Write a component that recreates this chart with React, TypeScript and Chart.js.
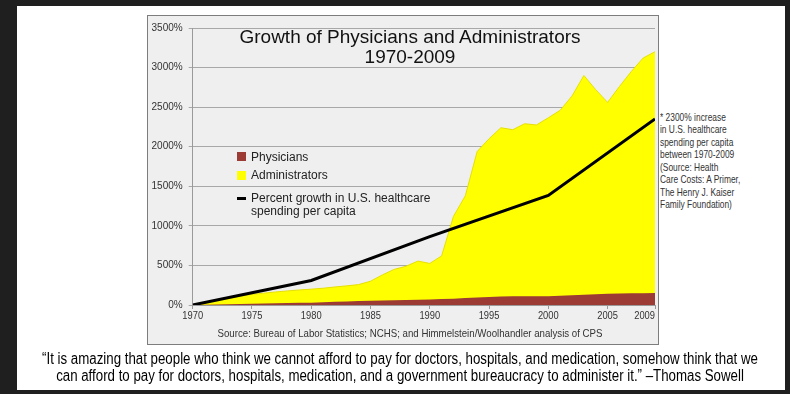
import React, { useEffect, useRef } from "react";
import { Chart, registerables } from "chart.js";

Chart.register(...registerables);

// ---- data ----
const years = [
  1970, 1971, 1972, 1973, 1974, 1975, 1976, 1977, 1978, 1979,
  1980, 1981, 1982, 1983, 1984, 1985, 1986, 1987, 1988, 1989,
  1990, 1991, 1992, 1993, 1994, 1995, 1996, 1997, 1998, 1999,
  2000, 2001, 2002, 2003, 2004, 2005, 2006, 2007, 2008, 2009,
];
const administrators = [
  0, 30, 60, 85, 110, 135, 150, 165, 178, 190,
  200, 212, 228, 242, 258, 300, 380, 450, 490, 555,
  525, 620, 1120, 1380, 1940, 2100, 2240, 2215, 2290, 2275,
  2365, 2460, 2640, 2900, 2720, 2560, 2760, 2950, 3120, 3200,
];
const physicians = [
  0, 3, 6, 9, 12, 15, 18, 21, 24, 27,
  30, 35, 40, 45, 50, 55, 58, 61, 64, 67,
  70, 75, 80, 87, 95, 102, 106, 110, 112, 110,
  110, 118, 124, 128, 135, 142, 146, 148, 150, 152,
];
const spendingYears = [1970, 1980, 1990, 2000, 2009];
const spendingGrowth = [0, 310, 865, 1385, 2350];

const xTickValues = [1970, 1975, 1980, 1985, 1990, 1995, 2000, 2005, 2009];
const seriesNames = ["Physicians", "Administrators", "Percent growth in U.S. healthcare spending per capita"];

const SANS = '"Liberation Sans", Arial, sans-serif';

const PHYS_COLOR = "#9c3a34";
const ADMIN_COLOR = "#ffff00";

const xLabelPlugin = {
  id: "xLabels",
  afterDraw(chart: any) {
    const s = chart.scales.x;
    const ctx = chart.ctx;
    const sx = 0.85;
    ctx.save();
    ctx.font = `11px ${SANS}`;
    ctx.fillStyle = "#333";
    ctx.textAlign = "center";
    ctx.textBaseline = "middle";
    xTickValues.forEach((v) => {
      const label = String(v);
      const w = ctx.measureText(label).width * sx;
      let px = s.getPixelForValue(v);
      const maxX = chart.chartArea.right - w / 2;
      if (px > maxX) px = maxX;
      ctx.save();
      ctx.translate(px, s.top + 11);
      ctx.scale(sx, 1);
      ctx.fillText(label, 0, 0);
      ctx.restore();
    });
    ctx.restore();
  },
};

export default function App() {
  const ref = useRef<HTMLCanvasElement>(null);

  useEffect(() => {
    if (!ref.current) return;
    const chart = new Chart(ref.current, {
      type: "line",
      data: {
        datasets: [
          {
            label: seriesNames[2],
            data: spendingYears.map((x, i) => ({ x, y: spendingGrowth[i] })),
            borderColor: "#000",
            borderWidth: 3,
            pointRadius: 0,
            fill: false,
            order: 0,
          },
          {
            label: seriesNames[0],
            data: years.map((x, i) => ({ x, y: physicians[i] })),
            borderColor: PHYS_COLOR,
            backgroundColor: PHYS_COLOR,
            borderWidth: 0,
            pointRadius: 0,
            fill: "origin",
            order: 1,
          },
          {
            label: seriesNames[1],
            data: years.map((x, i) => ({ x, y: administrators[i] })),
            borderColor: "#e6e000",
            backgroundColor: ADMIN_COLOR,
            borderWidth: 1,
            pointRadius: 0,
            fill: "origin",
            order: 2,
          },
        ],
      },
      options: {
        animation: false,
        responsive: false,
        maintainAspectRatio: false,
        layout: { padding: { left: 0, top: 9, right: 3, bottom: 0 } },
        plugins: { legend: { display: false }, title: { display: false }, tooltip: { enabled: false } },
        scales: {
          x: {
            type: "linear",
            min: 1970,
            max: 2009,
            afterBuildTicks: (scale: any) => {
              scale.ticks = xTickValues.map((v) => ({ value: v }));
            },
            afterFit: (scale: any) => {
              scale.height = 39;
            },
            grid: { display: true, drawOnChartArea: false, drawTicks: true, tickLength: 4, color: "#9a9a9a" },
            border: { display: true, color: "#9a9a9a" },
            ticks: { display: false },
          },
          y: {
            min: 0,
            max: 3500,
            afterFit: (scale: any) => {
              scale.width = 44.7;
            },
            ticks: {
              stepSize: 500,
              padding: 6,
              color: "#333",
              font: { family: SANS, size: 10 },
              callback: (v: any) => `${v}%`,
            },
            grid: { color: "#a8a8a8", tickLength: 4, lineWidth: 1 },
            border: { display: true, color: "#9a9a9a" },
          },
        },
      },
      plugins: [xLabelPlugin],
    });
    return () => chart.destroy();
  }, []);

  const noteLines = [
    "* 2300% increase",
    "in U.S. healthcare",
    "spending per capita",
    "between 1970-2009",
    "(Source: Health",
    "Care Costs: A Primer,",
    "The Henry J. Kaiser",
    "Family Foundation)",
  ];

  return (
    <div style={{ position: "fixed", left: 0, top: 0, width: 790, height: 394, background: "#1f1f1f", overflow: "hidden" }}>
      <div style={{ position: "absolute", left: 17, top: 6, width: 768, height: 384, background: "#fff" }} />
      <div
        style={{
          position: "absolute",
          left: 147,
          top: 15,
          width: 510,
          height: 328,
          background: "#efefef",
          border: "1px solid #7d7d7d",
        }}
      />
      <canvas ref={ref} width={510} height={328} style={{ position: "absolute", left: 148, top: 16, width: 510, height: 328 }} />
      {/* title */}
      <div
        style={{
          position: "absolute",
          left: 210,
          top: 26.5,
          width: 400,
          textAlign: "center",
          font: `19px ${SANS}`,
          lineHeight: "20px",
          color: "#111",
          whiteSpace: "nowrap",
        }}
      >
        Growth of Physicians and Administrators
        <br />
        1970-2009
      </div>
      {/* legend */}
      <div style={{ position: "absolute", left: 237, top: 152, width: 9, height: 9, background: PHYS_COLOR }} />
      <div style={{ position: "absolute", left: 251, top: 149.5, font: `12px ${SANS}`, lineHeight: "14px", color: "#222", whiteSpace: "nowrap" }}>
        {seriesNames[0]}
      </div>
      <div style={{ position: "absolute", left: 237, top: 170.5, width: 9, height: 9, background: ADMIN_COLOR }} />
      <div style={{ position: "absolute", left: 251, top: 168, font: `12px ${SANS}`, lineHeight: "14px", color: "#222", whiteSpace: "nowrap" }}>
        {seriesNames[1]}
      </div>
      <div style={{ position: "absolute", left: 237, top: 197, width: 9, height: 3, background: "#000" }} />
      <div
        style={{
          position: "absolute",
          left: 251,
          top: 191.5,
          width: 200,
          font: `12px ${SANS}`,
          lineHeight: "13.4px",
          color: "#222",
        }}
      >
        Percent growth in U.S. healthcare
        <br />
        spending per capita
      </div>
      {/* source */}
      <div
        style={{
          position: "absolute",
          left: 10,
          top: 327,
          width: 800,
          textAlign: "center",
          font: `11px ${SANS}`,
          lineHeight: "12px",
          color: "#333",
          whiteSpace: "nowrap",
          transform: "scaleX(0.88)",
          transformOrigin: "400px 0",
        }}
      >
        Source: Bureau of Labor Statistics; NCHS; and Himmelstein/Woolhandler analysis of CPS
      </div>
      {/* side note */}
      <div
        style={{
          position: "absolute",
          left: 660,
          top: 110.5,
          font: `10.5px ${SANS}`,
          lineHeight: "12.5px",
          color: "#333",
          whiteSpace: "nowrap",
          transform: "scaleX(0.8)",
          transformOrigin: "0 0",
        }}
      >
        {noteLines.map((l, i) => (
          <div key={i}>{l}</div>
        ))}
      </div>
      {/* quote */}
      <div
        style={{
          position: "absolute",
          left: -100,
          top: 351,
          width: 1000,
          textAlign: "center",
          font: `16px ${SANS}`,
          lineHeight: "16.7px",
          color: "#000",
          whiteSpace: "nowrap",
          transform: "scaleX(0.83)",
          transformOrigin: "500px 0",
        }}
      >
        “It is amazing that people who think we cannot afford to pay for doctors, hospitals, and medication, somehow think that we
        <br />
        can afford to pay for doctors, hospitals, medication, and a government bureaucracy to administer it.” –Thomas Sowell
      </div>
    </div>
  );
}
